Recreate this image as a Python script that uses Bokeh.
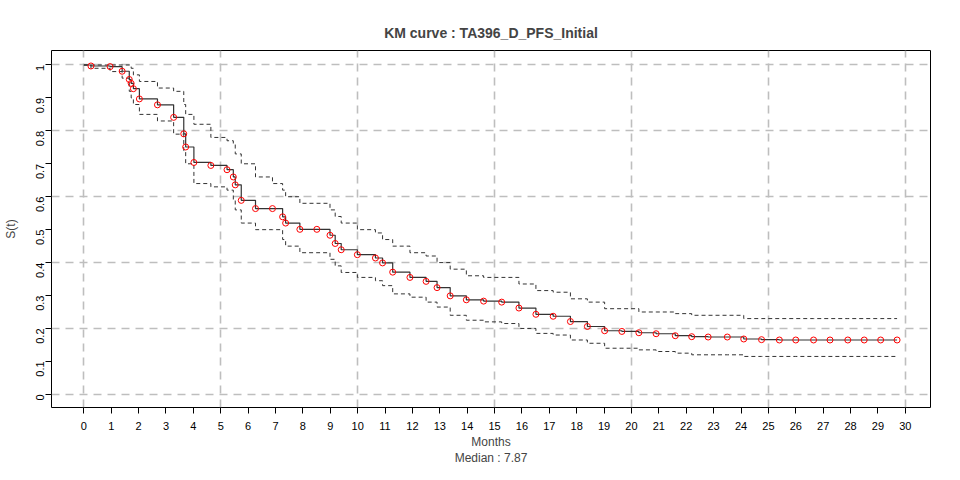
from math import pi
from bokeh.plotting import figure
from bokeh.models import Title, FixedTicker, Range1d
from bokeh.embed import file_html
from bokeh.resources import INLINE

times = [0.26, 0.96, 1.40, 1.66, 1.73, 1.81, 2.03, 2.69, 3.28, 3.65, 3.72, 4.02, 4.64, 5.23, 5.46, 5.53,
         5.75, 6.27, 6.89, 7.26, 7.37, 7.89, 8.51, 8.99, 9.18, 9.40, 9.99, 10.65, 10.91, 11.28, 11.91,
         12.50, 12.90, 13.38, 13.97, 14.60, 15.26, 15.89, 16.51, 17.14, 17.77, 18.39, 19.02, 19.65,
         20.27, 20.90, 21.60, 22.20, 22.80, 23.50, 24.10, 24.75, 25.40, 26.00, 26.65, 27.25, 27.90,
         28.50, 29.10, 29.70]
surv = [0.997, 0.995, 0.981, 0.956, 0.944, 0.928, 0.897, 0.879, 0.841, 0.791, 0.751, 0.704, 0.695,
        0.682, 0.660, 0.636, 0.589, 0.564, 0.564, 0.539, 0.520, 0.501, 0.501, 0.483, 0.458, 0.439,
        0.424, 0.414, 0.399, 0.371, 0.355, 0.343, 0.324, 0.299, 0.287, 0.283, 0.280, 0.262, 0.243,
        0.237, 0.221, 0.206, 0.193, 0.191, 0.187, 0.184, 0.178, 0.175, 0.174, 0.174, 0.168, 0.166,
        0.165, 0.165, 0.165, 0.165, 0.165, 0.165, 0.165, 0.165]
upper = [1.0, 1.0, 1.0, 1.0, 0.99, 0.97, 0.95, 0.93, 0.92, 0.88, 0.85, 0.82, 0.78, 0.77, 0.76, 0.73,
         0.70, 0.66, 0.64, 0.62, 0.60, 0.58, 0.58, 0.56, 0.54, 0.52, 0.50, 0.49, 0.47, 0.45, 0.43,
         0.42, 0.40, 0.38, 0.36, 0.355, 0.355, 0.335, 0.315, 0.31, 0.29, 0.28, 0.26, 0.26, 0.25, 0.25,
         0.245, 0.24, 0.24, 0.24, 0.23, 0.23, 0.23, 0.23, 0.23, 0.23, 0.23, 0.23, 0.23, 0.23]
lower = [0.99, 0.98, 0.96, 0.92, 0.90, 0.88, 0.85, 0.83, 0.79, 0.74, 0.70, 0.64, 0.63, 0.62, 0.59,
         0.56, 0.52, 0.50, 0.50, 0.47, 0.45, 0.43, 0.43, 0.41, 0.39, 0.37, 0.355, 0.345, 0.33, 0.305,
         0.295, 0.28, 0.265, 0.24, 0.225, 0.22, 0.215, 0.20, 0.185, 0.18, 0.165, 0.155, 0.14, 0.14,
         0.135, 0.13, 0.125, 0.12, 0.12, 0.12, 0.115, 0.115, 0.115, 0.115, 0.115, 0.115, 0.115,
         0.115, 0.115, 0.115]
x_ticks = list(range(0, 31))
y_ticks = [0, 0.1, 0.2, 0.3, 0.4, 0.5, 0.6, 0.7, 0.8, 0.9, 1]
grid_y = [0, 0.2, 0.4, 0.6, 0.8, 1]
grid_x = list(range(0, 31, 5))
median = 7.87

p = figure(width=944, height=464, output_backend="svg", toolbar_location=None,
           x_range=Range1d(-1.18, 30.92), y_range=Range1d(-0.04, 1.044),
           min_border_left=50, min_border_right=14, min_border_top=50, min_border_bottom=4)
p.title.text = "KM curve : TA396_D_PFS_Initial"
p.title.align = "center"
p.title.text_font = "Liberation Sans"
p.title.text_font_size = "14px"
p.title.text_font_style = "bold"
p.title.standoff = 20

for t in ["Months", "Median : %.2f" % median]:
    p.add_layout(Title(text=t, align="center", text_font="Liberation Sans", standoff=0,
                       text_font_size="12px", text_font_style="normal"), "below")

p.outline_line_color = "black"
p.outline_line_alpha = 1
for ax in (p.xaxis[0], p.yaxis[0]):
    ax.major_label_text_font = "Liberation Sans"
    ax.major_label_text_font_size = "11px"
    ax.major_label_text_color = "black"
    ax.axis_line_color = None
    ax.minor_tick_line_color = None
    ax.major_tick_line_color = "black"
    ax.major_tick_in = 0
    ax.major_tick_out = 6
p.xaxis.ticker = FixedTicker(ticks=x_ticks)
p.xaxis.major_label_standoff = 8
p.yaxis.ticker = FixedTicker(ticks=y_ticks)
p.yaxis.major_label_orientation = pi / 2
p.yaxis.axis_label = "S(t)"
p.yaxis.axis_label_text_font = "Liberation Sans"
p.yaxis.axis_label_text_font_size = "12px"
p.yaxis.axis_label_text_font_style = "normal"
p.yaxis.axis_label_standoff = 12
for g in (p.xgrid[0], p.ygrid[0]):
    g.grid_line_color = "#bebebe"
    g.grid_line_dash = "8 6"
    g.grid_line_width = 1.6
p.xgrid.ticker = FixedTicker(ticks=grid_x)
p.ygrid.ticker = FixedTicker(ticks=grid_y)

sx = [0] + times
sy = [1.0] + surv
p.step(sx, sy, mode="after", line_color="#333333", line_width=1.2)
p.step([0] + times, [1.0] + upper, mode="after", line_color="#333333", line_dash="4 3", line_width=1)
p.step([0] + times, [1.0] + lower, mode="after", line_color="#333333", line_dash="4 3", line_width=1)
p.scatter(times, surv, size=6, fill_color=None, line_color="red", line_width=1)

open("out.html", "w").write(file_html(p, INLINE))
